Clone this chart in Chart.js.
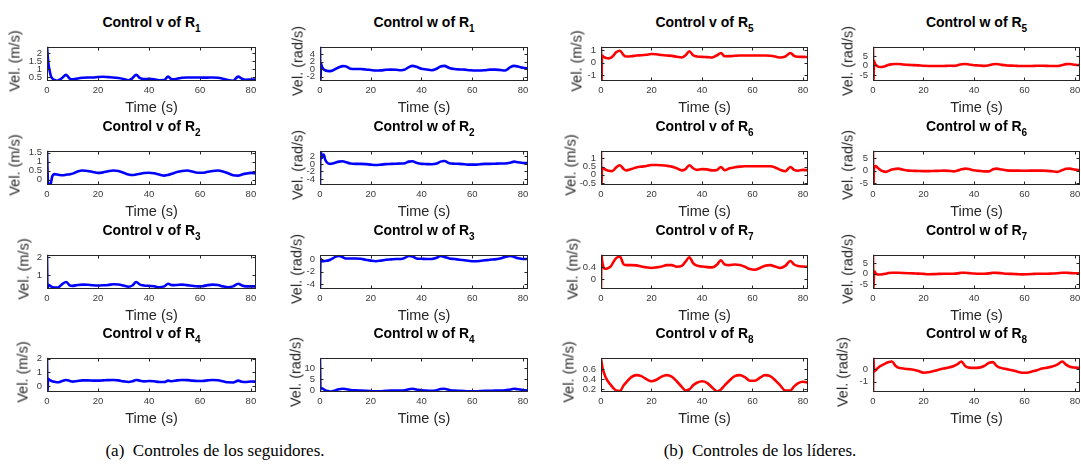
<!DOCTYPE html>
<html>
<head>
<meta charset="utf-8">
<script src="https://cdn.jsdelivr.net/npm/chart.js@4.4.1/dist/chart.umd.min.js"></script>
<style>
  html, body { margin: 0; padding: 0; background: #fff; overflow: hidden; }
  body { width: 1081px; height: 471px; position: relative; font-family: "Liberation Sans", Arial, sans-serif; }
  canvas { position: absolute; }
  .ttl { position: absolute; font-weight: bold; font-size: 14px; line-height: 14px; color: #000; white-space: nowrap; transform: translateX(-50%); }
  .ttl sub { font-size: 10px; vertical-align: -5px; line-height: 0; }
  .xlab, .ylab { position: absolute; font-size: 14.5px; line-height: 15px; color: #262626; white-space: nowrap; }
  .xlab { transform: translate(-50%, -50%); }
  .ylab { transform: translate(-50%, -50%) rotate(-90deg); }
  .cap { position: absolute; font-family: "Liberation Serif", serif; font-size: 17px; line-height: 17px; color: #000; white-space: nowrap; transform: translate(-50%, -50%); }
</style>
</head>
<body>
<div class="cap" style="left:215px; top:450px;">(a)&nbsp; Controles de los seguidores.</div>
<div class="cap" style="left:760px; top:450px;">(b)&nbsp; Controles de los líderes.</div>
<script>
// time samples (s), shared by every series
const time = [0, 0.2, 0.4, 0.7, 1, 1.5, 2, 3, 4, 5, 6, 7.5, 9, 10,
  12, 14, 16, 18, 20, 22, 24, 26, 28, 30, 32, 33.5, 35, 36.5,
  38, 40, 42, 44, 46, 47.5, 49, 51, 53, 55, 57, 59, 61, 63, 65, 67, 69, 71, 73,
  75, 76.5, 78, 80, 82];

// followers (blue)
const vR1 = [2.45,2.0,1.6,1.2,0.95,0.6,0.45, 0.34,0.3,0.36,0.48, 0.66,0.42,0.38, 0.44,0.48,0.5,0.5,0.53,0.54,0.52,0.5,0.46,0.4,0.33, 0.45,0.66,0.46, 0.4,0.41,0.39,0.33,0.34, 0.55,0.38, 0.42,0.48,0.5,0.5,0.5,0.49,0.49,0.5,0.48,0.42,0.34,0.3, 0.55,0.42,0.36,0.37,0.36];
const wR1 = [6.5,-3.5,1.5,0.8,0.3,-0.1,-0.3, -0.5,-0.55,-0.4,0, 0.5,0.8,0.75, 0.1,0,0,-0.1,-0.25,-0.4,-0.35,-0.2,-0.15,-0.2,-0.3, -0.1,0.5,0.85, 0.6,0.1,-0.1,-0.3,0.1, 0.7,0.85, 0.3,0,-0.1,-0.15,-0.3,-0.4,-0.4,-0.3,-0.15,-0.15,-0.25,-0.4, 0.5,0.85,0.7,0.35,0.1];
const vR2 = [1.7,0.6,-0.2,-0.25,-0.25,-0.2,0.15, 0.3,0.28,0.25,0.24, 0.27,0.3,0.33, 0.45,0.5,0.48,0.42,0.37,0.4,0.46,0.5,0.47,0.38,0.28, 0.25,0.28,0.32, 0.36,0.38,0.35,0.28,0.22, 0.26,0.32, 0.42,0.48,0.5,0.45,0.38,0.38,0.43,0.48,0.5,0.45,0.35,0.24, 0.22,0.28,0.33,0.37,0.35];
const wR2 = [-5.8,3.2,3.0,1.5,2.2,2.5,1.2, 0.2,0,0.1,0.3, 0.6,0.7,0.5, 0.1,0,0,-0.05,-0.2,-0.3,-0.2,-0.05,0,0.05,0.1, 0.2,0.6,0.7, 0.3,0,-0.05,-0.1,0.1, 0.6,0.75, 0.15,0.05,0,-0.1,-0.2,-0.2,-0.1,0,0,0.05,0.1,0.1, 0.3,0.6,0.45,0.25,0.2];
const vR3 = [2.2,0.15,0.45,0.42,0.4,0.35,0.32, 0.28,0.28,0.35,0.48, 0.6,0.4,0.38, 0.43,0.45,0.44,0.41,0.4,0.41,0.43,0.47,0.46,0.4,0.33, 0.4,0.6,0.45, 0.4,0.38,0.36,0.3,0.35, 0.5,0.42, 0.43,0.45,0.42,0.38,0.35,0.36,0.42,0.45,0.43,0.35,0.3,0.35, 0.5,0.4,0.35,0.35,0.35];
const wR3 = [-5,0.1,-0.1,-0.3,-0.35,-0.35,-0.3, -0.25,-0.1,0.1,0.35, 0.5,0.3,0.1, 0.1,0.1,0.05,-0.1,-0.25,-0.35,-0.25,-0.1,-0.05,0,0, 0.2,0.5,0.4, 0.1,0.05,0,0,0.2, 0.5,0.35, 0.1,0,-0.1,-0.2,-0.3,-0.35,-0.3,-0.2,-0.1,-0.05,0.1,0.35, 0.5,0.35,0.15,0,0];
const vR4 = [2.1,-0.5,0.55,0.5,0.45,0.4,0.36, 0.32,0.28,0.3,0.38, 0.45,0.38,0.33, 0.38,0.42,0.42,0.4,0.4,0.42,0.44,0.45,0.42,0.35,0.3, 0.35,0.45,0.4, 0.35,0.37,0.36,0.3,0.3, 0.4,0.36, 0.42,0.45,0.44,0.4,0.38,0.38,0.42,0.45,0.43,0.36,0.28,0.27, 0.4,0.32,0.3,0.34,0.32];
const wR4 = [14.5,0.5,1.0,1.0,0.9,0.6,0.2, -0.2,-0.4,-0.3,0.1, 0.6,0.8,0.7, 0.3,0.1,0,-0.1,-0.2,-0.3,-0.25,-0.1,0,0,0, 0.2,0.6,0.8, 0.5,0.1,0,-0.1,0.2, 0.7,0.8, 0.3,0,-0.1,-0.2,-0.3,-0.3,-0.2,-0.1,-0.1,0,0,0.1, 0.5,0.8,0.6,0.3,0.1];

// leaders (red)
const vR5 = [1.5,-1.7,0.58,0.55,0.47,0.42,0.38, 0.35,0.4,0.6,0.85, 0.97,0.6,0.5, 0.52,0.58,0.6,0.64,0.7,0.68,0.62,0.58,0.55,0.48,0.42, 0.6,0.93,0.6, 0.5,0.47,0.45,0.42,0.6, 0.79,0.52, 0.53,0.56,0.58,0.58,0.58,0.58,0.58,0.58,0.56,0.5,0.42,0.5, 0.79,0.55,0.48,0.47,0.46];
const wR5 = [11,-9,2.5,1.2,0.5,-0.2,-0.6, -0.8,-0.7,-0.3,0.3, 0.6,0.75,0.75, 0.5,0.3,0.2,0.05,-0.15,-0.25,-0.3,-0.3,-0.25,-0.15,-0.2, 0.1,0.6,0.75, 0.5,0.1,0,-0.2,0.1, 0.6,0.75, 0.3,0,-0.1,-0.2,-0.3,-0.3,-0.25,-0.15,-0.15,-0.2,-0.3,-0.3, 0.3,0.7,0.75,0.4,0.15];
const vR6 = [1.5,-0.7,0.45,0.42,0.4,0.35,0.3, 0.25,0.22,0.28,0.45, 0.58,0.35,0.27, 0.35,0.45,0.5,0.54,0.6,0.6,0.58,0.55,0.5,0.4,0.27, 0.35,0.58,0.4, 0.3,0.35,0.33,0.27,0.3, 0.48,0.28, 0.4,0.46,0.5,0.52,0.52,0.52,0.52,0.52,0.52,0.45,0.3,0.22, 0.48,0.3,0.25,0.3,0.28];
const wR6 = [8.5,-6,1.0,1.6,1.8,1.5,1.0, 0.2,-0.3,-0.5,-0.2, 0.4,0.7,0.8, 0.3,0,-0.1,-0.15,-0.2,-0.2,-0.15,-0.1,0,-0.1,-0.3, 0,0.5,0.8, 0.6,0.1,-0.1,-0.3,-0.3, 0.5,0.8, 0.4,0.1,0,0,-0.05,-0.05,0,0,0,-0.1,-0.3,-0.5, 0.2,0.7,0.8,0.4,0.2];
const vR7 = [-0.4,0.85,0.65,0.5,0.4,0.35,0.35, 0.38,0.45,0.6,0.72, 0.78,0.5,0.48, 0.48,0.47,0.43,0.4,0.38,0.4,0.43,0.48,0.48,0.42,0.45, 0.6,0.75,0.55, 0.46,0.43,0.41,0.4,0.5, 0.65,0.5, 0.48,0.5,0.48,0.42,0.34,0.32,0.38,0.46,0.48,0.43,0.38,0.45, 0.62,0.5,0.45,0.43,0.42];
const wR7 = [10,-8,1.2,0.9,0.3,-0.2,-0.4, -0.4,-0.2,0,0.3, 0.5,0.5,0.45, 0.35,0.25,0.15,0.05,-0.1,-0.25,-0.2,-0.1,0,0,0, 0.15,0.45,0.45, 0.3,0.1,0,0,0.15, 0.45,0.4, 0.2,0,-0.1,-0.2,-0.3,-0.25,-0.15,0,0,0,0.1,0.2, 0.5,0.5,0.35,0.2,0.2];
const vR8 = [0.8,0.74,0.68,0.6,0.55,0.48,0.42, 0.34,0.28,0.22,0.18, 0.17,0.28,0.34, 0.44,0.48,0.46,0.4,0.36,0.39,0.45,0.48,0.45,0.36,0.25, 0.18,0.2,0.28, 0.33,0.36,0.33,0.24,0.16, 0.2,0.28, 0.38,0.46,0.48,0.44,0.37,0.37,0.43,0.48,0.46,0.38,0.28,0.18, 0.18,0.26,0.32,0.35,0.33];
const wR8 = [-2.0,0.95,-0.2,-0.15,-0.1,0,0.1, 0.25,0.35,0.45,0.55, 0.6,0.25,0.12, 0.05,0,-0.05,-0.15,-0.28,-0.25,-0.15,-0.05,0.05,0.12,0.25, 0.4,0.6,0.25, 0.12,0.1,0.12,0.25,0.5, 0.55,0.25, 0.08,0,-0.08,-0.18,-0.28,-0.28,-0.18,-0.08,0.05,0.12,0.2,0.35, 0.6,0.35,0.18,0.12,0.1];

// grid order: rows top->bottom, columns left->right
const series = [vR1, wR1, vR5, wR5, vR2, wR2, vR6, wR6, vR3, wR3, vR7, wR7, vR4, wR4, vR8, wR8];
const robots = [1, 1, 5, 5, 2, 2, 6, 6, 3, 3, 7, 7, 4, 4, 8, 8];
const kinds = ['v', 'w', 'v', 'w', 'v', 'w', 'v', 'w', 'v', 'w', 'v', 'w', 'v', 'w', 'v', 'w'];
const yMin = [0.28, -3.2, -1.5, -8.1, -0.3, -5.6, -0.62, -5.8, 0.2, -4.8, -0.35, -7.4, -0.42, -0.6, 0.15, -1.8];
const yMax = [2.4, 6.0, 1.3, 9.8, 1.6, 3.5, 1.47, 8, 2.15, 0.7, 0.84, 9.2, 2.06, 14.5, 0.82, 0.9];
const yTicks = [
  [0.5, 1, 1.5, 2], [-2, 0, 2, 4], [-1, 0, 1], [-5, 0, 5],
  [0, 0.5, 1, 1.5], [-4, -2, 0, 2], [-0.5, 0, 0.5, 1], [-5, 0, 5],
  [1, 2], [-4, -2, 0], [0, 0.4], [-5, 0, 5],
  [0, 1, 2], [0, 5, 10], [0.2, 0.4, 0.6], [-1, 0]
];
const timeTicks = [0, 20, 40, 60, 80];

// layout
const colL = [47, 320, 601, 873], colR = [256, 528, 808, 1080];
const rowT = [40, 144, 248, 351], rowB = [81, 185, 289, 392];
const ylabX = [15, 298, 577, 848, 15, 298, 571, 848, 24, 297, 573, 848, 23, 296, 569, 843];
const PADL = 47, PADT = 4, PADR = 6, PADB = 22;

// MATLAB-like box with inward ticks
const frame = {
  id: 'frame',
  afterDatasetsDraw(chart) {
    const { ctx, chartArea: a, scales } = chart;
    const L = Math.round(a.left) + 0.5, R = Math.round(a.right) - 0.5;
    const T = Math.round(a.top) + 0.5, B = Math.round(a.bottom) - 0.5;
    ctx.save();
    ctx.strokeStyle = '#262626';
    ctx.lineWidth = 1;
    ctx.strokeRect(L, T, R - L, B - T);
    ctx.beginPath();
    scales.x.ticks.forEach(tk => {
      const x = Math.round(scales.x.getPixelForValue(tk.value)) + 0.5;
      ctx.moveTo(x, T); ctx.lineTo(x, T + 3);
      ctx.moveTo(x, B); ctx.lineTo(x, B - 3);
    });
    scales.y.ticks.forEach(tk => {
      const y = Math.round(scales.y.getPixelForValue(tk.value)) + 0.5;
      ctx.moveTo(L, y); ctx.lineTo(L + 3, y);
      ctx.moveTo(R, y); ctx.lineTo(R - 3, y);
    });
    ctx.stroke();
    ctx.restore();
  }
};

function addText(cls, html, x, y) {
  const d = document.createElement('div');
  d.className = cls;
  d.style.left = x + 'px';
  d.style.top = y + 'px';
  d.innerHTML = html;
  document.body.appendChild(d);
}

series.forEach((vals, i) => {
  const r = Math.floor(i / 4), c = i % 4;
  const left = colL[c] - PADL, top = rowT[r] - PADT;
  const w = colR[c] - colL[c] + PADL + PADR;
  const h = rowB[r] - rowT[r] + PADT + PADB;

  const cv = document.createElement('canvas');
  cv.width = w; cv.height = h;
  cv.style.left = left + 'px'; cv.style.top = top + 'px';
  cv.style.width = w + 'px'; cv.style.height = h + 'px';
  document.body.appendChild(cv);

  const midX = (colL[c] + colR[c]) / 2;
  addText('ttl', 'Control ' + kinds[i] + ' of R<sub>' + robots[i] + '</sub>', midX, rowT[r] - 25);
  addText('xlab', 'Time (s)', midX, rowB[r] + 26);
  addText('ylab', kinds[i] === 'v' ? 'Vel. (m/s)' : 'Vel. (rad/s)', ylabX[i], (rowT[r] + rowB[r]) / 2);

  const color = c < 2 ? '#0000ff' : '#ff0000';
  const ticksY = yTicks[i];

  new Chart(cv, {
    type: 'line',
    data: {
      datasets: [{
        data: time.map((t, k) => ({ x: t, y: vals[k] })),
        borderColor: color,
        borderWidth: 2.6,
        pointRadius: 0,
        cubicInterpolationMode: 'monotone',
        fill: false
      }]
    },
    options: {
      responsive: false,
      animation: false,
      devicePixelRatio: 1,
      layout: { padding: { left: 0, top: PADT, right: PADR, bottom: 0 } },
      plugins: { legend: { display: false }, tooltip: { enabled: false } },
      scales: {
        x: {
          type: 'linear', min: 0, max: 82,
          grid: { display: false, drawTicks: false, tickLength: 0 }, border: { display: false },
          afterBuildTicks: s => { s.ticks = timeTicks.map(v => ({ value: v })); },
          afterFit: s => { s.height = PADB; },
          ticks: { font: { size: 9.5, family: 'Liberation Sans' }, color: '#3a3a3a', padding: 4, maxRotation: 0, autoSkip: false, callback: v => String(v) }
        },
        y: {
          type: 'linear', min: yMin[i], max: yMax[i],
          grid: { display: false, drawTicks: false, tickLength: 0 }, border: { display: false },
          afterBuildTicks: s => { s.ticks = ticksY.map(v => ({ value: v })); },
          afterFit: s => { s.width = PADL; },
          ticks: { font: { size: 9.5, family: 'Liberation Sans' }, color: '#3a3a3a', padding: 5, autoSkip: false, callback: v => String(v) }
        }
      }
    },
    plugins: [frame]
  });
});
</script>
</body>
</html>
